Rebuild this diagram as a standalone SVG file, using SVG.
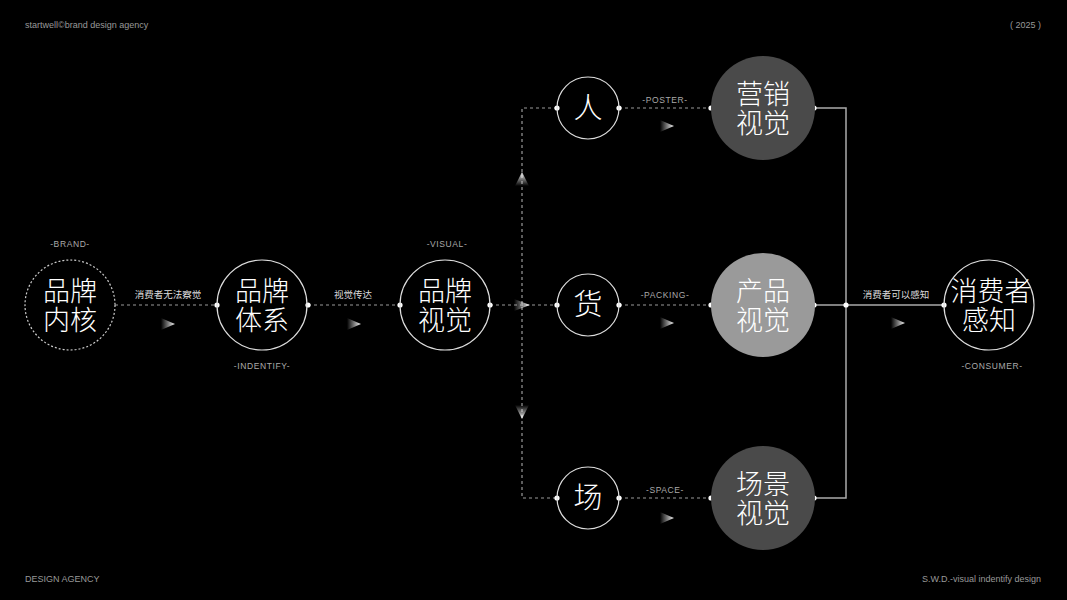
<svg xmlns="http://www.w3.org/2000/svg" width="1067" height="600" viewBox="0 0 1067 600">
<defs>
<linearGradient id="gR" x1="0" y1="0" x2="1" y2="0"><stop offset="0" stop-color="#fff" stop-opacity="0"/><stop offset="1" stop-color="#fff" stop-opacity="0.95"/></linearGradient>
<linearGradient id="gU" x1="0" y1="1" x2="0" y2="0"><stop offset="0" stop-color="#fff" stop-opacity="0"/><stop offset="1" stop-color="#fff" stop-opacity="0.95"/></linearGradient>
<linearGradient id="gD" x1="0" y1="0" x2="0" y2="1"><stop offset="0" stop-color="#fff" stop-opacity="0"/><stop offset="1" stop-color="#fff" stop-opacity="0.95"/></linearGradient>
<style>
.bg{fill:#000}
.ring{fill:none;stroke:#ddd;stroke-width:1.2}
.dring{fill:none;stroke:#ccc;stroke-width:1.2;stroke-dasharray:2 2}
.dash{fill:none;stroke:#999;stroke-width:1.2;stroke-dasharray:3 3}
.solid{fill:none;stroke:#aaa;stroke-width:1.5}
.dot{fill:#fff}
.big{font-family:"Noto Sans CJK SC",sans-serif;font-weight:300;font-size:27px;fill:#fff;text-anchor:middle}
.one{font-family:"Noto Sans CJK SC",sans-serif;font-weight:300;font-size:29px;fill:#fff;text-anchor:middle}
.lab{font-family:"Noto Sans CJK SC",sans-serif;font-size:9.5px;fill:#ddd;text-anchor:middle}
.tag{font-family:"Liberation Sans",sans-serif;font-size:8.5px;fill:#aaa;text-anchor:middle;letter-spacing:0.6px}
.hdr{font-family:"Liberation Sans",sans-serif;font-size:9px;fill:#999}
</style>
</defs>
<rect class="bg" x="0" y="0" width="1067" height="600"/>

<g id="header">
<text class="hdr" x="25" y="28">startwell©brand design agency</text>
<text class="hdr" x="1041" y="28" text-anchor="end">( 2025 )</text>
<text class="hdr" x="25" y="582">DESIGN AGENCY</text>
<text class="hdr" x="1041" y="582" text-anchor="end">S.W.D.-visual indentify design</text>
</g>

<g id="connectors">
<line class="dash" x1="115" y1="305" x2="217" y2="305"/>
<line class="dash" x1="308" y1="305" x2="400" y2="305"/>
<line class="dash" x1="490" y1="305" x2="557" y2="305"/>
<polyline class="dash" points="557,108 522,108 522,498 557,498"/>
<line class="dash" x1="619" y1="108" x2="711" y2="108"/>
<line class="dash" x1="619" y1="305" x2="711" y2="305"/>
<line class="dash" x1="619" y1="498" x2="711" y2="498"/>
<polyline class="solid" points="815,108 846,108 846,498 815,498"/>
<line class="solid" x1="815" y1="305" x2="944" y2="305"/>
<text class="lab" x="168" y="298">消费者无法察觉</text>
<text class="lab" x="353" y="298">视觉传达</text>
<text class="lab" x="896" y="298">消费者可以感知</text>
<text class="tag" x="665" y="103">-POSTER-</text>
<text class="tag" x="665" y="298">-PACKING-</text>
<text class="tag" x="665" y="493">-SPACE-</text>
<polygon fill="url(#gR)" points="161,318 175,324 161,330"/>
<polygon fill="url(#gR)" points="347,318 361,324 347,330"/>
<polygon fill="url(#gR)" points="514,299 530,305 514,311"/>
<polygon fill="url(#gR)" points="660,120 674,126 660,132"/>
<polygon fill="url(#gR)" points="660,317 674,323 660,329"/>
<polygon fill="url(#gR)" points="660,512 674,518 660,524"/>
<polygon fill="url(#gR)" points="891,317 905,323 891,329"/>
<polygon fill="url(#gU)" points="522,172 529,186 515,186"/>
<polygon fill="url(#gD)" points="515,405 529,405 522,419"/>
<circle class="dot" cx="217" cy="305" r="2.6"/>
<circle class="dot" cx="308" cy="305" r="2.6"/>
<circle class="dot" cx="400" cy="305" r="2.6"/>
<circle class="dot" cx="490" cy="305" r="2.6"/>
<circle class="dot" cx="557" cy="108" r="2.6"/>
<circle class="dot" cx="619" cy="108" r="2.6"/>
<circle class="dot" cx="557" cy="305" r="2.6"/>
<circle class="dot" cx="619" cy="305" r="2.6"/>
<circle class="dot" cx="557" cy="498" r="2.6"/>
<circle class="dot" cx="619" cy="498" r="2.6"/>
<circle class="dot" cx="711" cy="108" r="2.6"/>
<circle class="dot" cx="711" cy="305" r="2.6"/>
<circle class="dot" cx="711" cy="498" r="2.6"/>
<circle class="dot" cx="814" cy="108" r="2.6"/>
<circle class="dot" cx="814" cy="305" r="2.6"/>
<circle class="dot" cx="814" cy="498" r="2.6"/>
<circle class="dot" cx="846" cy="305" r="2.6"/>
<circle class="dot" cx="944" cy="305" r="2.6"/>
</g>

<g id="node-core">
<circle class="dring" cx="70" cy="305" r="45"/>
<text class="big" x="70" y="301">品牌<tspan x="70" dy="29">内核</tspan></text>
<text class="tag" x="70" y="247">-BRAND-</text>
</g>
<g id="node-system">
<circle class="ring" cx="262" cy="305" r="45"/>
<text class="big" x="262" y="301">品牌<tspan x="262" dy="29">体系</tspan></text>
<text class="tag" x="262" y="369">-INDENTIFY-</text>
</g>
<g id="node-visual">
<circle class="ring" cx="445" cy="305" r="45"/>
<text class="big" x="445" y="301">品牌<tspan x="445" dy="29">视觉</tspan></text>
<text class="tag" x="447" y="247">-VISUAL-</text>
</g>
<g id="node-ren">
<circle class="ring" cx="588" cy="108" r="31"/>
<text class="one" x="588" y="118">人</text>
</g>
<g id="node-huo">
<circle class="ring" cx="588" cy="305" r="31"/>
<text class="one" x="588" y="315">货</text>
</g>
<g id="node-chang">
<circle class="ring" cx="588" cy="498" r="31"/>
<text class="one" x="588" y="508">场</text>
</g>
<g id="node-marketing">
<circle fill="#4a4a4a" cx="763" cy="108" r="52"/>
<text class="big" x="763" y="104">营销<tspan x="763" dy="29">视觉</tspan></text>
</g>
<g id="node-product">
<circle fill="#9a9a9a" cx="763" cy="305" r="52"/>
<text class="big" x="763" y="301">产品<tspan x="763" dy="29">视觉</tspan></text>
</g>
<g id="node-scene">
<circle fill="#4a4a4a" cx="763" cy="498" r="52"/>
<text class="big" x="763" y="494">场景<tspan x="763" dy="29">视觉</tspan></text>
</g>
<g id="node-consumer">
<circle class="ring" cx="989" cy="305" r="45"/>
<text class="big" x="991" y="301">消费者<tspan x="989" dy="29">感知</tspan></text>
<text class="tag" x="992" y="369">-CONSUMER-</text>
</g>
</svg>
